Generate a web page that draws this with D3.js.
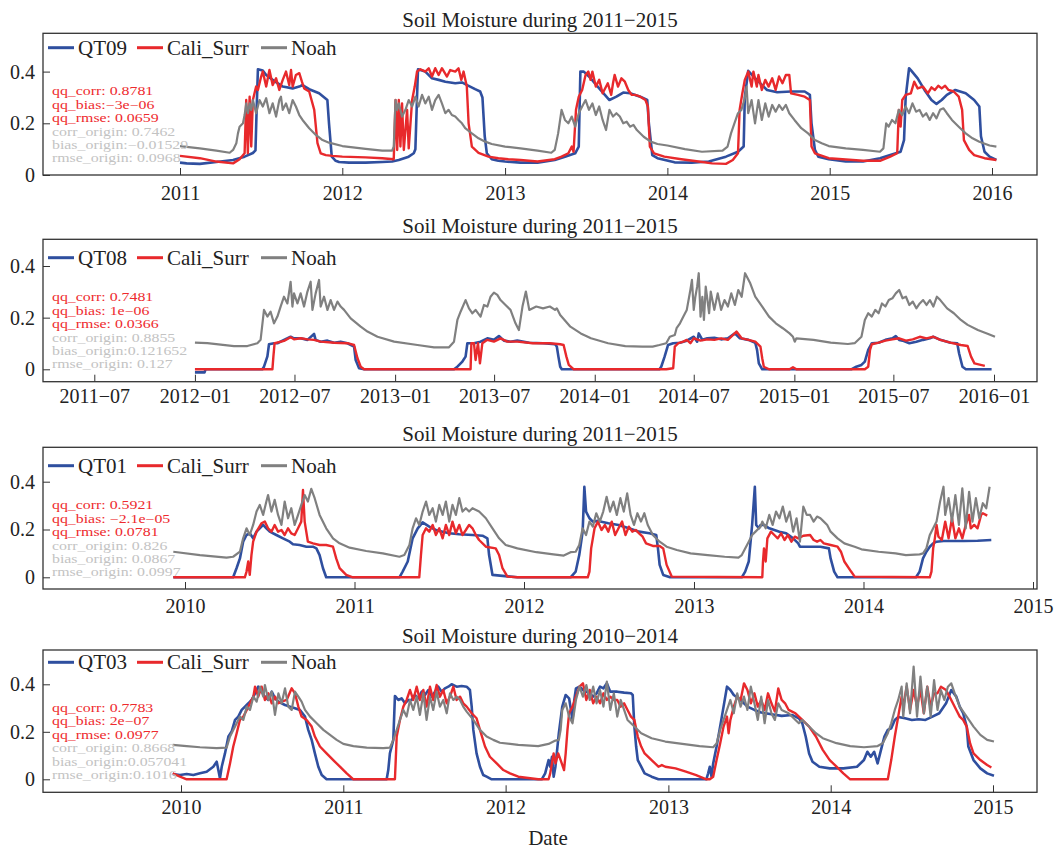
<!DOCTYPE html>
<html lang="en">
	<head>
		<meta charset="utf-8">
		<title>Soil Moisture</title>
		<script src="https://d3js.org/d3.v7.min.js"></script>
		<style>
			body { margin: 0; background: #fff; }
			text { font-family: "Liberation Serif", "Times New Roman", serif; }
		</style>
	</head>
	<body>
		<script type="text/javascript">

		//titles, stations, legend names
		var titles = ["Soil Moisture during 2011\u22122015", "Soil Moisture during 2011\u22122015",
			"Soil Moisture during 2011\u22122015", "Soil Moisture during 2010\u22122014"];
		var stations = ["QT09", "QT08", "QT01", "QT03"];
		var seriesNames = ["Cali_Surr", "Noah"];
		var yTicks = [0, 0.2, 0.4];

		//stats printed in the corner of every panel
		var qt09Stats = ["qq_corr: 0.8781", "qq_bias:\u22123e\u221206", "qq_rmse: 0.0659", "corr_origin: 0.7462", "bias_origin:\u22120.01529", "rmse_origin: 0.0968"];
		var qt08Stats = ["qq_corr: 0.7481", "qq_bias: 1e\u221206", "qq_rmse: 0.0366", "corr_origin: 0.8855", "bias_origin:0.121652", "rmse_origin: 0.127"];
		var qt01Stats = ["qq_corr: 0.5921", "qq_bias: \u22122.1e\u221205", "qq_rmse: 0.0781", "corr_origin: 0.826", "bias_origin: 0.0867", "rmse_origin: 0.0997"];
		var qt03Stats = ["qq_corr: 0.7783", "qq_bias: 2e\u221207", "qq_rmse: 0.0977", "corr_origin: 0.8668", "bias_origin:0.057041", "rmse_origin:0.1016"];

		//series: [decimal year, soil moisture]
		var qt09Obs = [[2011.000,0.048],[2011.041,0.045],[2011.122,0.043],[2011.224,0.050],[2011.327,0.058],[2011.398,0.071],[2011.449,0.085],[2011.465,0.095],[2011.472,0.250],[2011.480,0.409],[2011.510,0.404],[2011.531,0.387],[2011.571,0.368],[2011.633,0.342],[2011.694,0.335],[2011.735,0.342],[2011.755,0.348],[2011.796,0.332],[2011.857,0.316],[2011.908,0.290],[2011.918,0.200],[2011.935,0.071],[2011.959,0.055],[2011.980,0.050],
			[2012.041,0.048],[2012.143,0.048],[2012.245,0.050],[2012.306,0.052],[2012.347,0.058],[2012.408,0.071],[2012.439,0.084],[2012.449,0.100],[2012.459,0.300],[2012.465,0.409],[2012.510,0.400],[2012.551,0.374],[2012.592,0.368],[2012.633,0.361],[2012.694,0.355],[2012.735,0.358],[2012.776,0.345],[2012.816,0.332],[2012.847,0.323],[2012.861,0.300],[2012.875,0.150],[2012.888,0.084],[2012.918,0.061],[2012.959,0.055],[2013.000,0.052],
			[2013.095,0.048],[2013.200,0.048],[2013.306,0.058],[2013.369,0.071],[2013.432,0.084],[2013.454,0.110],[2013.464,0.400],[2013.485,0.400],[2013.517,0.381],[2013.580,0.335],[2013.643,0.290],[2013.686,0.303],[2013.728,0.319],[2013.770,0.316],[2013.833,0.303],[2013.876,0.290],[2013.886,0.200],[2013.907,0.077],[2013.939,0.065],
			[2014.044,0.049],[2014.150,0.048],[2014.255,0.052],[2014.361,0.071],[2014.435,0.090],[2014.470,0.110],[2014.477,0.300],[2014.498,0.403],[2014.551,0.368],[2014.614,0.329],[2014.677,0.320],[2014.762,0.323],[2014.846,0.323],[2014.878,0.310],[2014.888,0.200],[2014.909,0.097],[2014.930,0.071],[2014.994,0.061],
			[2015.099,0.052],[2015.205,0.052],[2015.310,0.065],[2015.373,0.077],[2015.437,0.090],[2015.458,0.135],[2015.468,0.300],[2015.489,0.413],[2015.500,0.406],[2015.542,0.374],[2015.584,0.329],[2015.627,0.290],[2015.658,0.275],[2015.690,0.290],[2015.722,0.310],[2015.774,0.329],[2015.838,0.316],[2015.890,0.290],[2015.922,0.265],[2015.932,0.150],[2015.954,0.090],[2015.985,0.071],[2016.027,0.058]];
		var qt09Cali = [[2011.000,0.074],[2011.122,0.065],[2011.224,0.052],[2011.327,0.045],[2011.367,0.061],[2011.398,0.084],[2011.408,0.290],[2011.418,0.084],[2011.429,0.303],[2011.439,0.110],[2011.449,0.290],[2011.459,0.316],[2011.469,0.342],[2011.480,0.329],[2011.500,0.381],[2011.510,0.400],[2011.531,0.342],[2011.551,0.406],[2011.571,0.348],[2011.592,0.374],[2011.612,0.329],[2011.633,0.368],[2011.653,0.400],[2011.673,0.348],[2011.684,0.406],[2011.694,0.342],[2011.714,0.387],[2011.735,0.394],[2011.751,0.361],[2011.765,0.335],[2011.796,0.323],[2011.827,0.252],[2011.847,0.123],[2011.867,0.084],[2011.898,0.077],[2011.939,0.074],[2012.000,0.071],
			[2012.143,0.068],[2012.245,0.065],[2012.316,0.061],[2012.327,0.290],[2012.337,0.097],[2012.347,0.290],[2012.357,0.110],[2012.367,0.277],[2012.378,0.097],[2012.398,0.252],[2012.408,0.103],[2012.429,0.290],[2012.445,0.342],[2012.459,0.400],[2012.480,0.409],[2012.510,0.400],[2012.531,0.413],[2012.551,0.381],[2012.571,0.413],[2012.592,0.387],[2012.612,0.413],[2012.643,0.381],[2012.663,0.406],[2012.694,0.400],[2012.714,0.413],[2012.731,0.368],[2012.745,0.400],[2012.765,0.342],[2012.776,0.200],[2012.796,0.110],[2012.837,0.086],[2012.898,0.071],[2012.959,0.065],[2013.020,0.061],
			[2013.095,0.058],[2013.200,0.052],[2013.306,0.061],[2013.348,0.071],[2013.390,0.084],[2013.411,0.110],[2013.422,0.090],[2013.437,0.252],[2013.454,0.303],[2013.475,0.329],[2013.496,0.387],[2013.513,0.400],[2013.527,0.368],[2013.538,0.400],[2013.559,0.342],[2013.580,0.368],[2013.601,0.316],[2013.633,0.355],[2013.654,0.310],[2013.665,0.355],[2013.675,0.387],[2013.696,0.342],[2013.717,0.374],[2013.738,0.361],[2013.759,0.329],[2013.780,0.310],[2013.802,0.310],[2013.833,0.303],[2013.865,0.290],[2013.880,0.265],[2013.892,0.110],[2013.918,0.084],[2013.981,0.071],
			[2014.086,0.061],[2014.192,0.052],[2014.276,0.045],[2014.361,0.043],[2014.403,0.058],[2014.435,0.084],[2014.445,0.252],[2014.462,0.316],[2014.477,0.368],[2014.498,0.400],[2014.519,0.342],[2014.530,0.400],[2014.551,0.342],[2014.561,0.387],[2014.582,0.329],[2014.603,0.368],[2014.624,0.342],[2014.646,0.374],[2014.667,0.329],[2014.688,0.381],[2014.709,0.355],[2014.730,0.387],[2014.751,0.387],[2014.762,0.316],[2014.804,0.310],[2014.846,0.303],[2014.878,0.290],[2014.888,0.110],[2014.909,0.084],[2014.994,0.065],
			[2015.205,0.055],[2015.310,0.055],[2015.373,0.071],[2015.416,0.084],[2015.426,0.252],[2015.437,0.187],[2015.447,0.290],[2015.468,0.310],[2015.500,0.316],[2015.521,0.361],[2015.542,0.335],[2015.574,0.342],[2015.605,0.316],[2015.627,0.339],[2015.648,0.329],[2015.669,0.345],[2015.690,0.335],[2015.711,0.345],[2015.732,0.329],[2015.764,0.323],[2015.795,0.303],[2015.816,0.252],[2015.827,0.135],[2015.859,0.097],[2015.890,0.077],[2015.954,0.065],[2016.027,0.058]];
		var qt09Noah = [[2011.000,0.112],[2011.122,0.103],[2011.224,0.094],[2011.306,0.086],[2011.327,0.097],[2011.347,0.123],[2011.357,0.161],[2011.367,0.187],[2011.388,0.200],[2011.398,0.232],[2011.408,0.277],[2011.418,0.239],[2011.429,0.277],[2011.439,0.252],[2011.449,0.290],[2011.469,0.239],[2011.490,0.290],[2011.510,0.265],[2011.531,0.297],[2011.551,0.239],[2011.571,0.277],[2011.592,0.226],[2011.612,0.290],[2011.622,0.303],[2011.633,0.252],[2011.653,0.277],[2011.673,0.239],[2011.694,0.290],[2011.714,0.265],[2011.735,0.232],[2011.755,0.213],[2011.796,0.181],[2011.837,0.155],[2011.878,0.135],[2011.918,0.125],
			[2012.000,0.112],[2012.143,0.101],[2012.245,0.094],[2012.306,0.094],[2012.316,0.110],[2012.327,0.290],[2012.337,0.252],[2012.347,0.277],[2012.367,0.226],[2012.388,0.252],[2012.408,0.290],[2012.429,0.265],[2012.449,0.303],[2012.469,0.265],[2012.490,0.310],[2012.510,0.277],[2012.531,0.303],[2012.551,0.252],[2012.571,0.290],[2012.592,0.310],[2012.612,0.277],[2012.633,0.239],[2012.653,0.252],[2012.673,0.232],[2012.694,0.226],[2012.714,0.213],[2012.735,0.200],[2012.755,0.181],[2012.796,0.161],[2012.837,0.142],[2012.878,0.129],[2012.918,0.120],
			[2013.000,0.110],[2013.095,0.103],[2013.200,0.094],[2013.285,0.086],[2013.306,0.097],[2013.327,0.161],[2013.348,0.252],[2013.369,0.213],[2013.390,0.200],[2013.411,0.226],[2013.432,0.187],[2013.454,0.239],[2013.475,0.265],[2013.496,0.290],[2013.517,0.252],[2013.538,0.277],[2013.559,0.232],[2013.580,0.265],[2013.601,0.213],[2013.622,0.174],[2013.643,0.252],[2013.665,0.226],[2013.686,0.239],[2013.707,0.226],[2013.728,0.200],[2013.749,0.206],[2013.770,0.187],[2013.791,0.194],[2013.812,0.174],[2013.854,0.148],[2013.897,0.129],[2013.939,0.120],
			[2014.000,0.114],[2014.108,0.100],[2014.213,0.090],[2014.340,0.094],[2014.371,0.110],[2014.392,0.161],[2014.413,0.200],[2014.435,0.239],[2014.456,0.252],[2014.477,0.297],[2014.488,0.342],[2014.498,0.239],[2014.519,0.290],[2014.540,0.200],[2014.561,0.290],[2014.582,0.213],[2014.603,0.277],[2014.624,0.226],[2014.646,0.271],[2014.667,0.245],[2014.688,0.271],[2014.709,0.252],[2014.730,0.271],[2014.751,0.239],[2014.783,0.213],[2014.825,0.181],[2014.867,0.161],[2014.909,0.135],[2014.951,0.123],[2014.994,0.112],
			[2015.099,0.103],[2015.205,0.097],[2015.310,0.090],[2015.331,0.103],[2015.348,0.200],[2015.363,0.187],[2015.384,0.213],[2015.405,0.200],[2015.426,0.252],[2015.447,0.232],[2015.468,0.265],[2015.489,0.239],[2015.510,0.277],[2015.532,0.245],[2015.553,0.252],[2015.574,0.226],[2015.595,0.239],[2015.616,0.213],[2015.637,0.239],[2015.658,0.219],[2015.680,0.252],[2015.701,0.258],[2015.722,0.239],[2015.753,0.213],[2015.795,0.187],[2015.838,0.161],[2015.880,0.142],[2015.922,0.129],[2015.985,0.114],[2016.027,0.110]];

		var qt08Obs = [[2012.000,-0.012],[2012.048,-0.012],[2012.053,0.000],[2012.337,0.000],[2012.345,0.010],[2012.362,0.050],[2012.370,0.097],[2012.395,0.101],[2012.412,0.101],[2012.445,0.114],[2012.478,0.126],[2012.495,0.120],[2012.528,0.120],[2012.562,0.114],[2012.595,0.137],[2012.603,0.114],[2012.628,0.107],[2012.662,0.111],[2012.695,0.103],[2012.728,0.107],[2012.762,0.101],[2012.795,0.088],[2012.803,0.036],[2012.820,0.004],[2012.845,0.000],
			[2013.295,0.000],[2013.312,0.010],[2013.337,0.030],[2013.353,0.049],[2013.362,0.101],[2013.395,0.101],[2013.428,0.107],[2013.462,0.120],[2013.495,0.114],[2013.520,0.129],[2013.545,0.111],[2013.578,0.107],[2013.612,0.111],[2013.672,0.103],[2013.741,0.101],[2013.801,0.097],[2013.810,0.088],[2013.818,0.049],[2013.827,0.010],[2013.835,0.000],
			[2014.324,0.000],[2014.333,0.010],[2014.350,0.049],[2014.367,0.094],[2014.393,0.101],[2014.427,0.103],[2014.461,0.111],[2014.496,0.126],[2014.513,0.107],[2014.521,0.139],[2014.539,0.114],[2014.564,0.120],[2014.599,0.122],[2014.633,0.116],[2014.667,0.120],[2014.702,0.139],[2014.727,0.120],[2014.770,0.114],[2014.804,0.103],[2014.813,0.075],[2014.822,0.023],[2014.839,0.000],
			[2015.285,0.000],[2015.310,0.010],[2015.336,0.017],[2015.353,0.030],[2015.370,0.075],[2015.388,0.101],[2015.422,0.103],[2015.456,0.114],[2015.491,0.120],[2015.508,0.129],[2015.525,0.114],[2015.542,0.111],[2015.576,0.101],[2015.611,0.107],[2015.645,0.114],[2015.679,0.120],[2015.696,0.126],[2015.731,0.114],[2015.782,0.103],[2015.816,0.101],[2015.825,0.062],[2015.842,0.010],[2015.859,0.000],[2015.988,0.000]];
		var qt08Cali = [[2012.000,0.000],[2012.387,0.000],[2012.392,0.050],[2012.398,0.101],[2012.445,0.110],[2012.478,0.124],[2012.495,0.116],[2012.528,0.120],[2012.562,0.116],[2012.595,0.114],[2012.628,0.107],[2012.695,0.103],[2012.762,0.101],[2012.795,0.094],[2012.812,0.043],[2012.828,0.010],[2012.845,0.000],
			[2013.378,0.000],[2013.382,0.101],[2013.395,0.101],[2013.403,0.036],[2013.415,0.101],[2013.425,0.023],[2013.437,0.101],[2013.462,0.114],[2013.495,0.107],[2013.528,0.120],[2013.562,0.107],[2013.612,0.107],[2013.690,0.101],[2013.775,0.101],[2013.827,0.097],[2013.844,0.094],[2013.858,0.049],[2013.870,0.017],[2013.895,0.000],
			[2014.358,0.000],[2014.393,0.004],[2014.401,0.088],[2014.419,0.101],[2014.444,0.107],[2014.461,0.114],[2014.479,0.101],[2014.496,0.120],[2014.530,0.111],[2014.564,0.116],[2014.599,0.114],[2014.633,0.120],[2014.667,0.114],[2014.693,0.133],[2014.710,0.146],[2014.736,0.120],[2014.770,0.114],[2014.804,0.107],[2014.830,0.088],[2014.839,0.043],[2014.847,0.010],[2014.873,0.000],[2014.976,0.000],[2014.993,0.008],[2015.010,0.000],
			[2015.353,0.000],[2015.370,0.010],[2015.379,0.075],[2015.388,0.097],[2015.422,0.103],[2015.456,0.111],[2015.491,0.116],[2015.525,0.120],[2015.559,0.111],[2015.593,0.116],[2015.628,0.126],[2015.662,0.120],[2015.696,0.126],[2015.731,0.114],[2015.782,0.103],[2015.834,0.094],[2015.868,0.090],[2015.885,0.049],[2015.902,0.023],[2015.954,0.013]];
		var qt08Noah = [[2012.000,0.103],[2012.062,0.101],[2012.195,0.090],[2012.262,0.090],[2012.312,0.101],[2012.328,0.114],[2012.345,0.230],[2012.362,0.204],[2012.378,0.223],[2012.395,0.178],[2012.412,0.204],[2012.428,0.243],[2012.445,0.281],[2012.462,0.255],[2012.478,0.339],[2012.487,0.243],[2012.495,0.294],[2012.512,0.255],[2012.528,0.294],[2012.545,0.243],[2012.562,0.301],[2012.578,0.339],[2012.587,0.230],[2012.603,0.294],[2012.620,0.346],[2012.628,0.243],[2012.645,0.281],[2012.662,0.230],[2012.678,0.268],[2012.695,0.230],[2012.712,0.262],[2012.728,0.243],[2012.745,0.230],[2012.778,0.197],[2012.828,0.165],[2012.862,0.146],[2012.912,0.126],[2012.995,0.107],
			[2013.112,0.094],[2013.195,0.085],[2013.270,0.085],[2013.295,0.107],[2013.312,0.191],[2013.328,0.223],[2013.353,0.268],[2013.370,0.236],[2013.387,0.217],[2013.403,0.230],[2013.428,0.204],[2013.445,0.249],[2013.462,0.243],[2013.478,0.281],[2013.495,0.297],[2013.512,0.288],[2013.528,0.268],[2013.553,0.249],[2013.578,0.230],[2013.603,0.178],[2013.620,0.152],[2013.638,0.243],[2013.655,0.301],[2013.672,0.230],[2013.707,0.243],[2013.741,0.236],[2013.775,0.243],[2013.801,0.230],[2013.810,0.236],[2013.827,0.210],[2013.878,0.165],[2013.930,0.139],[2013.981,0.120],
			[2014.067,0.101],[2014.153,0.090],[2014.238,0.088],[2014.290,0.088],[2014.324,0.094],[2014.358,0.101],[2014.376,0.126],[2014.401,0.133],[2014.410,0.159],[2014.427,0.178],[2014.444,0.204],[2014.461,0.230],[2014.479,0.307],[2014.487,0.346],[2014.496,0.230],[2014.504,0.281],[2014.513,0.320],[2014.521,0.372],[2014.530,0.204],[2014.539,0.281],[2014.547,0.191],[2014.556,0.320],[2014.573,0.217],[2014.581,0.301],[2014.599,0.230],[2014.616,0.294],[2014.633,0.230],[2014.650,0.268],[2014.667,0.243],[2014.684,0.294],[2014.702,0.249],[2014.719,0.307],[2014.736,0.281],[2014.753,0.372],[2014.779,0.333],[2014.804,0.281],[2014.839,0.243],[2014.873,0.204],[2014.907,0.178],[2014.942,0.159],[2014.976,0.139],[2014.993,0.126],
			[2015.002,0.107],[2015.010,0.120],[2015.096,0.114],[2015.182,0.103],[2015.268,0.098],[2015.302,0.101],[2015.336,0.126],[2015.353,0.191],[2015.370,0.217],[2015.388,0.204],[2015.405,0.230],[2015.422,0.217],[2015.439,0.255],[2015.456,0.243],[2015.473,0.268],[2015.491,0.275],[2015.508,0.294],[2015.525,0.307],[2015.542,0.275],[2015.559,0.281],[2015.576,0.249],[2015.593,0.262],[2015.611,0.236],[2015.628,0.255],[2015.645,0.268],[2015.662,0.249],[2015.679,0.268],[2015.696,0.243],[2015.714,0.281],[2015.731,0.268],[2015.765,0.236],[2015.799,0.217],[2015.834,0.191],[2015.868,0.172],[2015.919,0.152],[2015.971,0.137],[2016.005,0.126]];

		var qt01Obs = [[2009.931,0.000],[2010.284,0.000],[2010.304,0.038],[2010.324,0.079],[2010.343,0.149],[2010.363,0.177],[2010.382,0.184],[2010.402,0.163],[2010.422,0.191],[2010.461,0.219],[2010.480,0.205],[2010.500,0.191],[2010.539,0.177],[2010.578,0.163],[2010.618,0.149],[2010.637,0.138],[2010.676,0.135],[2010.716,0.128],[2010.755,0.128],[2010.775,0.121],[2010.794,0.093],[2010.814,0.038],[2010.833,0.000],
			[2011.265,0.000],[2011.284,0.024],[2011.314,0.066],[2011.343,0.163],[2011.373,0.205],[2011.402,0.230],[2011.441,0.212],[2011.480,0.198],[2011.520,0.191],[2011.559,0.184],[2011.618,0.180],[2011.696,0.177],[2011.755,0.174],[2011.784,0.163],[2011.794,0.093],[2011.814,0.010],[2011.961,0.000],
			[2012.274,0.000],[2012.304,0.024],[2012.325,0.093],[2012.345,0.191],[2012.355,0.379],[2012.365,0.275],[2012.385,0.247],[2012.405,0.233],[2012.435,0.236],[2012.496,0.226],[2012.556,0.219],[2012.617,0.205],[2012.677,0.191],[2012.738,0.184],[2012.778,0.177],[2012.788,0.121],[2012.798,0.052],[2012.819,0.010],[2012.859,0.000],
			[2013.282,0.000],[2013.302,0.024],[2013.323,0.066],[2013.343,0.219],[2013.359,0.379],[2013.367,0.219],[2013.383,0.205],[2013.393,0.219],[2013.413,0.219],[2013.444,0.205],[2013.504,0.191],[2013.544,0.184],[2013.585,0.163],[2013.615,0.142],[2013.625,0.128],[2013.685,0.128],[2013.746,0.128],[2013.796,0.121],[2013.806,0.079],[2013.827,0.024],[2013.847,0.000],
			[2014.310,0.000],[2014.331,0.024],[2014.351,0.079],[2014.371,0.107],[2014.391,0.128],[2014.411,0.142],[2014.431,0.149],[2014.472,0.152],[2014.593,0.152],[2014.673,0.153],[2014.754,0.156]];
		var qt01Cali = [[2009.931,0.000],[2010.353,0.000],[2010.363,0.024],[2010.373,0.066],[2010.382,0.010],[2010.392,0.093],[2010.402,0.149],[2010.422,0.191],[2010.451,0.226],[2010.471,0.233],[2010.490,0.205],[2010.510,0.191],[2010.529,0.219],[2010.549,0.191],[2010.569,0.198],[2010.588,0.177],[2010.608,0.205],[2010.627,0.184],[2010.647,0.177],[2010.667,0.205],[2010.686,0.233],[2010.696,0.365],[2010.706,0.233],[2010.725,0.149],[2010.755,0.142],[2010.794,0.135],[2010.833,0.135],[2010.873,0.128],[2010.892,0.079],[2010.912,0.038],[2010.951,0.010],[2010.990,0.000],
			[2011.382,0.000],[2011.392,0.093],[2011.402,0.177],[2011.422,0.205],[2011.441,0.191],[2011.461,0.219],[2011.480,0.177],[2011.500,0.205],[2011.520,0.163],[2011.539,0.219],[2011.559,0.177],[2011.578,0.233],[2011.598,0.184],[2011.618,0.219],[2011.637,0.177],[2011.657,0.198],[2011.676,0.219],[2011.696,0.205],[2011.716,0.177],[2011.735,0.156],[2011.775,0.128],[2011.833,0.121],[2011.853,0.093],[2011.873,0.038],[2011.902,0.003],[2011.961,0.000],
			[2012.375,0.000],[2012.385,0.024],[2012.395,0.121],[2012.405,0.163],[2012.415,0.205],[2012.435,0.233],[2012.456,0.198],[2012.476,0.219],[2012.496,0.191],[2012.516,0.233],[2012.536,0.177],[2012.556,0.205],[2012.577,0.233],[2012.597,0.177],[2012.617,0.212],[2012.637,0.191],[2012.657,0.198],[2012.677,0.184],[2012.698,0.170],[2012.718,0.142],[2012.758,0.131],[2012.798,0.131],[2012.819,0.121],[2012.839,0.052],[2012.869,0.003],
			[2013.403,0.000],[2013.407,0.066],[2013.413,0.121],[2013.423,0.066],[2013.433,0.163],[2013.454,0.191],[2013.474,0.177],[2013.494,0.163],[2013.514,0.184],[2013.534,0.156],[2013.554,0.177],[2013.575,0.149],[2013.595,0.170],[2013.615,0.163],[2013.645,0.174],[2013.685,0.177],[2013.706,0.156],[2013.726,0.149],[2013.746,0.156],[2013.766,0.142],[2013.806,0.135],[2013.847,0.128],[2013.867,0.107],[2013.887,0.066],[2013.927,0.024],[2013.948,0.003],
			[2014.391,0.000],[2014.401,0.024],[2014.411,0.121],[2014.421,0.163],[2014.431,0.219],[2014.442,0.170],[2014.462,0.156],[2014.482,0.233],[2014.502,0.163],[2014.522,0.247],[2014.542,0.163],[2014.563,0.205],[2014.583,0.163],[2014.603,0.219],[2014.623,0.261],[2014.633,0.205],[2014.653,0.219],[2014.673,0.205],[2014.694,0.261],[2014.704,0.268],[2014.730,0.258]];
		var qt01Noah = [[2009.931,0.107],[2010.088,0.093],[2010.245,0.082],[2010.284,0.086],[2010.324,0.107],[2010.343,0.163],[2010.363,0.205],[2010.382,0.177],[2010.402,0.219],[2010.422,0.275],[2010.441,0.303],[2010.461,0.261],[2010.480,0.317],[2010.490,0.344],[2010.510,0.275],[2010.529,0.324],[2010.549,0.261],[2010.569,0.219],[2010.588,0.317],[2010.608,0.247],[2010.627,0.289],[2010.647,0.219],[2010.667,0.261],[2010.686,0.303],[2010.706,0.344],[2010.725,0.317],[2010.745,0.370],[2010.765,0.331],[2010.794,0.261],[2010.833,0.205],[2010.873,0.163],[2010.912,0.142],[2010.971,0.124],
			[2011.069,0.110],[2011.167,0.100],[2011.265,0.086],[2011.294,0.093],[2011.324,0.135],[2011.343,0.205],[2011.363,0.247],[2011.382,0.219],[2011.402,0.275],[2011.422,0.317],[2011.441,0.261],[2011.461,0.289],[2011.480,0.233],[2011.500,0.303],[2011.520,0.261],[2011.539,0.317],[2011.559,0.233],[2011.578,0.303],[2011.598,0.261],[2011.618,0.331],[2011.637,0.275],[2011.657,0.289],[2011.676,0.275],[2011.696,0.289],[2011.735,0.275],[2011.775,0.247],[2011.814,0.205],[2011.853,0.163],[2011.892,0.135],[2011.961,0.121],
			[2012.073,0.105],[2012.173,0.096],[2012.234,0.091],[2012.274,0.105],[2012.304,0.107],[2012.325,0.135],[2012.345,0.205],[2012.365,0.177],[2012.385,0.233],[2012.405,0.212],[2012.425,0.268],[2012.446,0.233],[2012.466,0.275],[2012.486,0.337],[2012.506,0.275],[2012.526,0.317],[2012.546,0.261],[2012.567,0.331],[2012.587,0.275],[2012.607,0.351],[2012.627,0.261],[2012.647,0.219],[2012.667,0.268],[2012.688,0.233],[2012.708,0.268],[2012.728,0.219],[2012.758,0.177],[2012.798,0.149],[2012.839,0.128],[2012.899,0.114],[2012.980,0.100],
			[2013.081,0.093],[2013.181,0.086],[2013.262,0.082],[2013.282,0.093],[2013.302,0.121],[2013.323,0.149],[2013.343,0.177],[2013.363,0.191],[2013.383,0.205],[2013.393,0.212],[2013.403,0.233],[2013.423,0.205],[2013.444,0.261],[2013.464,0.219],[2013.484,0.275],[2013.504,0.247],[2013.524,0.296],[2013.544,0.233],[2013.565,0.275],[2013.585,0.191],[2013.605,0.247],[2013.625,0.149],[2013.645,0.296],[2013.665,0.261],[2013.685,0.261],[2013.706,0.233],[2013.726,0.254],[2013.746,0.247],[2013.766,0.233],[2013.786,0.219],[2013.806,0.191],[2013.847,0.163],[2013.887,0.142],[2013.948,0.128],[2013.988,0.117],
			[2014.089,0.107],[2014.190,0.100],[2014.250,0.093],[2014.331,0.096],[2014.351,0.100],[2014.371,0.121],[2014.391,0.177],[2014.411,0.205],[2014.431,0.233],[2014.452,0.317],[2014.472,0.379],[2014.482,0.261],[2014.502,0.331],[2014.522,0.233],[2014.542,0.344],[2014.563,0.219],[2014.583,0.372],[2014.603,0.205],[2014.623,0.358],[2014.643,0.233],[2014.663,0.331],[2014.683,0.247],[2014.704,0.310],[2014.724,0.289],[2014.744,0.379]];

		var qt03Obs = [[2009.949,0.022],[2009.994,0.018],[2010.035,0.022],[2010.076,0.018],[2010.117,0.025],[2010.158,0.032],[2010.199,0.053],[2010.220,0.074],[2010.230,0.039],[2010.240,0.004],[2010.251,0.053],[2010.271,0.109],[2010.292,0.180],[2010.312,0.201],[2010.333,0.250],[2010.353,0.264],[2010.374,0.292],[2010.394,0.306],[2010.415,0.320],[2010.435,0.334],[2010.456,0.362],[2010.476,0.390],[2010.497,0.369],[2010.517,0.348],[2010.538,0.334],[2010.559,0.369],[2010.579,0.341],[2010.600,0.327],[2010.620,0.320],[2010.641,0.313],[2010.671,0.306],[2010.702,0.299],[2010.733,0.292],[2010.764,0.264],[2010.784,0.208],[2010.805,0.166],[2010.825,0.109],[2010.846,0.053],[2010.867,0.018],[2010.897,0.000],
			[2011.267,0.000],[2011.277,0.039],[2011.287,0.109],[2011.308,0.166],[2011.318,0.351],[2011.339,0.334],[2011.359,0.341],[2011.380,0.320],[2011.400,0.334],[2011.421,0.334],[2011.441,0.355],[2011.462,0.341],[2011.483,0.369],[2011.503,0.355],[2011.524,0.376],[2011.544,0.348],[2011.565,0.369],[2011.585,0.390],[2011.606,0.369],[2011.626,0.383],[2011.647,0.390],[2011.667,0.400],[2011.698,0.390],[2011.729,0.393],[2011.760,0.390],[2011.780,0.376],[2011.791,0.306],[2011.801,0.208],[2011.821,0.109],[2011.842,0.053],[2011.862,0.018],[2011.883,0.011],[2011.914,0.000],
			[2012.078,0.000],[2012.222,0.000],[2012.243,0.025],[2012.264,0.081],[2012.274,0.053],[2012.285,0.095],[2012.295,0.011],[2012.306,0.053],[2012.327,0.194],[2012.348,0.306],[2012.369,0.355],[2012.390,0.341],[2012.411,0.250],[2012.422,0.334],[2012.432,0.383],[2012.454,0.390],[2012.475,0.376],[2012.496,0.369],[2012.517,0.362],[2012.538,0.348],[2012.559,0.362],[2012.580,0.390],[2012.601,0.383],[2012.622,0.404],[2012.643,0.369],[2012.686,0.369],[2012.728,0.365],[2012.770,0.362],[2012.781,0.355],[2012.791,0.222],[2012.802,0.138],[2012.812,0.081],[2012.833,0.053],[2012.854,0.025],[2012.897,0.011],[2012.939,0.000],
			[2013.234,0.000],[2013.245,0.025],[2013.255,0.053],[2013.266,0.011],[2013.276,0.067],[2013.297,0.138],[2013.319,0.222],[2013.340,0.306],[2013.361,0.390],[2013.382,0.376],[2013.403,0.355],[2013.445,0.334],[2013.487,0.306],[2013.530,0.292],[2013.572,0.281],[2013.635,0.274],[2013.698,0.267],[2013.762,0.271],[2013.783,0.264],[2013.804,0.257],[2013.825,0.236],[2013.846,0.180],[2013.867,0.109],[2013.888,0.074],[2013.930,0.053],[2013.994,0.046],
			[2014.078,0.046],[2014.162,0.053],[2014.205,0.081],[2014.226,0.116],[2014.247,0.095],[2014.268,0.116],[2014.289,0.067],[2014.310,0.124],[2014.331,0.180],[2014.352,0.208],[2014.373,0.215],[2014.395,0.250],[2014.416,0.262],[2014.458,0.257],[2014.500,0.250],[2014.542,0.253],[2014.584,0.250],[2014.627,0.264],[2014.669,0.278],[2014.711,0.320],[2014.743,0.376],[2014.774,0.348],[2014.795,0.306],[2014.816,0.278],[2014.838,0.222],[2014.848,0.138],[2014.880,0.081],[2014.922,0.046],[2014.964,0.025],[2015.006,0.015]];
		var qt03Cali = [[2009.949,0.025],[2009.994,0.011],[2010.035,0.000],[2010.281,0.000],[2010.302,0.067],[2010.322,0.138],[2010.343,0.194],[2010.363,0.250],[2010.384,0.264],[2010.405,0.292],[2010.425,0.320],[2010.446,0.348],[2010.456,0.390],[2010.476,0.348],[2010.497,0.390],[2010.517,0.334],[2010.538,0.362],[2010.559,0.320],[2010.579,0.348],[2010.600,0.320],[2010.620,0.327],[2010.651,0.334],[2010.682,0.383],[2010.702,0.362],[2010.723,0.306],[2010.743,0.264],[2010.774,0.250],[2010.805,0.222],[2010.825,0.180],[2010.856,0.138],[2010.897,0.109],[2010.938,0.081],[2010.979,0.053],
			[2011.021,0.025],[2011.062,0.000],[2011.318,0.000],[2011.329,0.180],[2011.349,0.250],[2011.370,0.306],[2011.390,0.334],[2011.411,0.376],[2011.431,0.334],[2011.452,0.390],[2011.472,0.334],[2011.493,0.376],[2011.513,0.306],[2011.534,0.390],[2011.554,0.334],[2011.575,0.397],[2011.595,0.348],[2011.616,0.376],[2011.637,0.320],[2011.657,0.348],[2011.678,0.390],[2011.698,0.334],[2011.719,0.348],[2011.739,0.320],[2011.760,0.306],[2011.791,0.278],[2011.821,0.257],[2011.842,0.208],[2011.873,0.138],[2011.903,0.095],[2011.945,0.067],[2011.986,0.039],
			[2012.027,0.025],[2012.078,0.011],[2012.200,0.000],[2012.264,0.000],[2012.274,0.025],[2012.295,0.109],[2012.306,0.067],[2012.323,0.109],[2012.338,0.081],[2012.359,0.039],[2012.369,0.109],[2012.380,0.208],[2012.390,0.278],[2012.411,0.306],[2012.432,0.348],[2012.454,0.390],[2012.475,0.404],[2012.496,0.334],[2012.517,0.376],[2012.538,0.320],[2012.559,0.348],[2012.580,0.320],[2012.601,0.362],[2012.622,0.334],[2012.643,0.348],[2012.665,0.334],[2012.686,0.334],[2012.707,0.306],[2012.728,0.320],[2012.749,0.292],[2012.770,0.264],[2012.791,0.250],[2012.812,0.180],[2012.833,0.138],[2012.854,0.109],[2012.897,0.081],[2012.939,0.053],[2012.960,0.060],[2012.981,0.053],
			[2013.044,0.046],[2013.108,0.032],[2013.171,0.018],[2013.234,0.000],[2013.255,0.000],[2013.276,0.011],[2013.297,0.081],[2013.319,0.151],[2013.340,0.222],[2013.361,0.264],[2013.371,0.194],[2013.382,0.250],[2013.403,0.306],[2013.424,0.348],[2013.445,0.334],[2013.466,0.404],[2013.487,0.376],[2013.508,0.320],[2013.530,0.362],[2013.551,0.306],[2013.572,0.334],[2013.593,0.292],[2013.614,0.362],[2013.635,0.320],[2013.656,0.285],[2013.677,0.383],[2013.698,0.334],[2013.719,0.320],[2013.741,0.292],[2013.762,0.285],[2013.783,0.278],[2013.804,0.264],[2013.825,0.250],[2013.867,0.222],[2013.909,0.180],[2013.951,0.124],[2013.994,0.081],
			[2014.036,0.053],[2014.078,0.025],[2014.120,0.000],[2014.352,0.000],[2014.373,0.081],[2014.395,0.180],[2014.416,0.264],[2014.437,0.348],[2014.447,0.306],[2014.468,0.390],[2014.489,0.292],[2014.511,0.376],[2014.532,0.306],[2014.553,0.376],[2014.574,0.278],[2014.595,0.390],[2014.616,0.306],[2014.637,0.362],[2014.658,0.362],[2014.679,0.390],[2014.711,0.376],[2014.732,0.348],[2014.753,0.320],[2014.774,0.292],[2014.795,0.264],[2014.816,0.250],[2014.838,0.222],[2014.859,0.151],[2014.880,0.109],[2014.922,0.081],[2014.964,0.060],[2014.990,0.050]];
		var qt03Noah = [[2009.949,0.145],[2010.035,0.140],[2010.117,0.135],[2010.220,0.131],[2010.281,0.133],[2010.302,0.180],[2010.322,0.208],[2010.343,0.236],[2010.363,0.264],[2010.384,0.250],[2010.405,0.306],[2010.425,0.292],[2010.446,0.348],[2010.466,0.327],[2010.487,0.390],[2010.507,0.348],[2010.517,0.397],[2010.538,0.334],[2010.559,0.369],[2010.579,0.271],[2010.600,0.362],[2010.620,0.320],[2010.641,0.383],[2010.661,0.306],[2010.682,0.292],[2010.702,0.369],[2010.723,0.348],[2010.743,0.327],[2010.764,0.292],[2010.795,0.264],[2010.836,0.236],[2010.877,0.208],[2010.918,0.187],[2010.959,0.166],
			[2011.000,0.149],[2011.062,0.140],[2011.144,0.133],[2011.246,0.131],[2011.287,0.133],[2011.308,0.166],[2011.329,0.208],[2011.349,0.250],[2011.370,0.292],[2011.390,0.264],[2011.411,0.334],[2011.431,0.292],[2011.452,0.348],[2011.472,0.271],[2011.493,0.362],[2011.513,0.250],[2011.534,0.348],[2011.554,0.292],[2011.575,0.369],[2011.595,0.306],[2011.616,0.334],[2011.637,0.278],[2011.657,0.362],[2011.678,0.334],[2011.698,0.348],[2011.719,0.334],[2011.739,0.306],[2011.760,0.285],[2011.801,0.250],[2011.842,0.208],[2011.883,0.180],[2011.924,0.166],[2011.965,0.154],
			[2012.078,0.145],[2012.200,0.140],[2012.264,0.149],[2012.306,0.163],[2012.327,0.166],[2012.338,0.208],[2012.348,0.292],[2012.369,0.320],[2012.390,0.264],[2012.411,0.236],[2012.432,0.334],[2012.454,0.390],[2012.475,0.348],[2012.496,0.397],[2012.517,0.334],[2012.538,0.390],[2012.559,0.320],[2012.580,0.376],[2012.601,0.306],[2012.622,0.411],[2012.643,0.292],[2012.665,0.362],[2012.686,0.264],[2012.707,0.334],[2012.728,0.292],[2012.749,0.250],[2012.791,0.222],[2012.833,0.194],[2012.897,0.173],[2012.981,0.159],
			[2013.086,0.149],[2013.192,0.140],[2013.276,0.135],[2013.297,0.151],[2013.319,0.208],[2013.340,0.250],[2013.361,0.292],[2013.382,0.334],[2013.403,0.278],[2013.424,0.362],[2013.445,0.306],[2013.466,0.348],[2013.487,0.292],[2013.508,0.390],[2013.530,0.320],[2013.551,0.250],[2013.572,0.348],[2013.593,0.236],[2013.614,0.334],[2013.635,0.278],[2013.656,0.250],[2013.677,0.320],[2013.698,0.292],[2013.741,0.278],[2013.783,0.250],[2013.804,0.236],[2013.825,0.250],[2013.867,0.222],[2013.909,0.194],[2013.951,0.173],
			[2014.036,0.152],[2014.120,0.140],[2014.205,0.135],[2014.289,0.140],[2014.321,0.152],[2014.352,0.194],[2014.373,0.236],[2014.395,0.292],[2014.416,0.334],[2014.437,0.390],[2014.447,0.264],[2014.468,0.404],[2014.489,0.278],[2014.511,0.475],[2014.532,0.264],[2014.553,0.432],[2014.574,0.278],[2014.595,0.390],[2014.616,0.264],[2014.637,0.418],[2014.658,0.292],[2014.679,0.376],[2014.700,0.334],[2014.722,0.390],[2014.743,0.404],[2014.764,0.362],[2014.795,0.306],[2014.838,0.264],[2014.880,0.222],[2014.922,0.187],[2014.964,0.166],[2015.006,0.159]];

		//canvas
		var width = 1056,
			height = 850,
			frameLeft = 43,
			frameRight = 1037;

		var colors = { obs: "#2f4f9f", cali: "#e8292c", noah: "#808080" };
		var statRed = "#ee2a2e",
			statGray = "#c3c3c3";

		//panel layout (pixels), one per subplot
		var layout = [
			{ top: 33.3, bottom: 175, zeroY: 175, y04: 71.6, t0: [2011, 0], t1: [2016, 0], x0: 180, x1: 992, months: 12, fmt: "%Y", legendDy: 14.4, labelBase: 200 },
			{ top: 239.3, bottom: 381.7, zeroY: 369.3, y04: 266, t0: [2011, 6], t1: [2016, 0], x0: 94.3, x1: 994, months: 6, fmt: "%Y\u2212%m", legendDy: 18.4, labelBase: 403 },
			{ top: 447.3, bottom: 589, zeroY: 577.3, y04: 481.7, t0: [2010, 0], t1: [2015, 0], x0: 185, x1: 1033, months: 12, fmt: "%Y", legendDy: 18.4, labelBase: 613 },
			{ top: 650, bottom: 792.3, zeroY: 779.3, y04: 684.3, t0: [2010, 0], t1: [2015, 0], x0: 181, x1: 993, months: 12, fmt: "%Y", legendDy: 12.3, labelBase: 814 }
		];

		var panelData = [
			{ obs: qt09Obs, cali: qt09Cali, noah: qt09Noah, stats: qt09Stats },
			{ obs: qt08Obs, cali: qt08Cali, noah: qt08Noah, stats: qt08Stats },
			{ obs: qt01Obs, cali: qt01Cali, noah: qt01Noah, stats: qt01Stats },
			{ obs: qt03Obs, cali: qt03Cali, noah: qt03Noah, stats: qt03Stats }
		];

		//decimal year -> Date
		function toDate(t) {
			var yr = Math.floor(t),
				a = Date.UTC(yr, 0, 1),
				b = Date.UTC(yr + 1, 0, 1);
			return new Date(a + (t - yr) * (b - a));
		}

		var svg = d3.select("body").append("svg")
			.attr("width", width)
			.attr("height", height);

		layout.forEach(function(L, i) {
			var D = panelData[i];

			var x = d3.scaleUtc()
				.domain([new Date(Date.UTC(L.t0[0], L.t0[1], 1)), new Date(Date.UTC(L.t1[0], L.t1[1], 1))])
				.range([L.x0, L.x1]);
			var y = d3.scaleLinear()
				.domain([0, 0.4])
				.range([L.zeroY, L.y04]);

			var g = svg.append("g");

			g.append("clipPath").attr("id", "clip" + i)
				.append("rect")
				.attr("x", frameLeft).attr("y", L.top)
				.attr("width", frameRight - frameLeft).attr("height", L.bottom - L.top);

			//lines
			var line = d3.line()
				.x(function(d) { return x(toDate(d[0])); })
				.y(function(d) { return y(d[1]); });

			var lines = g.append("g").attr("clip-path", "url(#clip" + i + ")");
			[["obs", 2.6], ["cali", 2.4], ["noah", 2.2]].forEach(function(s) {
				lines.append("path")
					.datum(D[s[0]])
					.attr("d", line)
					.attr("fill", "none")
					.attr("stroke", colors[s[0]])
					.attr("stroke-width", s[1])
					.attr("stroke-linejoin", "round");
			});

			//x axis, ticks pointing in
			var xAxis = d3.axisBottom(x)
				.ticks(d3.utcMonth.every(L.months))
				.tickFormat(d3.utcFormat(L.fmt))
				.tickSizeInner(-7)
				.tickSizeOuter(0);
			var gx = g.append("g")
				.attr("transform", "translate(0," + L.bottom + ")")
				.call(xAxis);
			gx.select(".domain").remove();
			gx.selectAll("line").attr("stroke", "#333");
			gx.selectAll("text")
				.attr("y", L.labelBase - L.bottom)
				.attr("dy", null)
				.attr("fill", "#222")
				.style("font-size", "20px")
				.style("font-family", "'Liberation Serif', serif");

			//y axis
			var yAxis = d3.axisLeft(y)
				.tickValues(yTicks)
				.tickFormat(function(d) { return d === 0 ? "0" : d3.format(".1f")(d); })
				.tickSizeInner(-7)
				.tickSizeOuter(0)
				.tickPadding(8);
			var gy = g.append("g")
				.attr("transform", "translate(" + frameLeft + ",0)")
				.call(yAxis);
			gy.select(".domain").remove();
			gy.selectAll("line").attr("stroke", "#333");
			gy.selectAll("text")
				.attr("fill", "#222")
				.style("font-size", "20px")
				.style("font-family", "'Liberation Serif', serif");

			//frame
			g.append("rect")
				.attr("x", frameLeft).attr("y", L.top)
				.attr("width", frameRight - frameLeft).attr("height", L.bottom - L.top)
				.attr("fill", "none")
				.attr("stroke", "#333")
				.attr("stroke-width", 1.3);

			//title
			g.append("text")
				.attr("x", (frameLeft + frameRight) / 2)
				.attr("y", L.top - 6.6)
				.attr("text-anchor", "middle")
				.attr("fill", "#222")
				.style("font-size", "21px")
				.text(titles[i]);

			//legend
			var legendItems = [
				{ name: stations[i], color: colors.obs, x: 48 },
				{ name: seriesNames[0], color: colors.cali, x: 137 },
				{ name: seriesNames[1], color: colors.noah, x: 261 }
			];
			var ly = L.top + L.legendDy;
			legendItems.forEach(function(it) {
				g.append("line")
					.attr("x1", it.x).attr("x2", it.x + 26)
					.attr("y1", ly).attr("y2", ly)
					.attr("stroke", it.color)
					.attr("stroke-width", 3);
				g.append("text")
					.attr("x", it.x + 30)
					.attr("y", ly + 7)
					.attr("fill", "#222")
					.style("font-size", "21px")
					.text(it.name);
			});

			//stats text: small font stretched sideways like the original
			D.stats.forEach(function(s, k) {
				g.append("text")
					.attr("transform", "translate(52," + (L.top + 62 + k * 13.4) + ") scale(1.38,1)")
					.attr("fill", k < 3 ? statRed : statGray)
					.style("font-size", "11.5px")
					.text(s);
			});
		});

		//shared x label
		svg.append("text")
			.attr("x", 548)
			.attr("y", 845)
			.attr("text-anchor", "middle")
			.attr("fill", "#222")
			.style("font-size", "21px")
			.text("Date");

		</script>
	</body>
</html>
